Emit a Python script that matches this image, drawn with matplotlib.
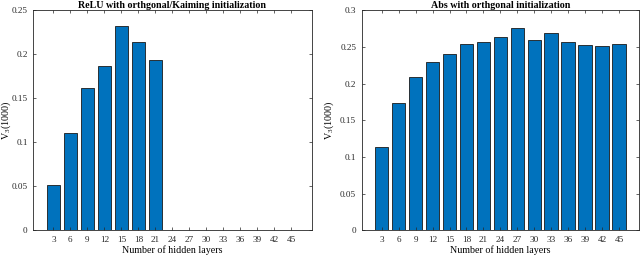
import matplotlib
matplotlib.use("Agg")
import matplotlib.pyplot as plt
from matplotlib.ticker import FuncFormatter

layers = [3, 6, 9, 12, 15, 18, 21, 24, 27, 30, 33, 36, 39, 42, 45]
relu_vals = [0.052, 0.111, 0.162, 0.187, 0.2326, 0.2136, 0.194, 0, 0, 0, 0, 0, 0, 0, 0]
abs_vals = [0.1134, 0.174, 0.2094, 0.230, 0.2404, 0.2536, 0.2563, 0.264, 0.2754,
            0.259, 0.269, 0.2563, 0.2527, 0.2518, 0.2545]
titles = ["ReLU with orthgonal/Kaiming initialization", "Abs with orthgonal initialization"]
xlabel = "Number of hidden layers"
ylabel = r"V$_3$(1000)"
relu_yticks = [0, 0.05, 0.1, 0.15, 0.2, 0.25]
abs_yticks = [0, 0.05, 0.1, 0.15, 0.2, 0.25, 0.3]

plt.rcParams['font.family'] = ['Liberation Serif', 'DejaVu Serif']
plt.rcParams['mathtext.fontset'] = 'custom'
plt.rcParams['mathtext.rm'] = 'Liberation Serif'
plt.rcParams['mathtext.it'] = 'Liberation Serif'

fig = plt.figure(figsize=(6.4, 2.56), dpi=100)
H = 256
bottom = (H - 230.3) / H
height = 220.0 / H
ax1 = fig.add_axes([33.3 / 640, bottom, 278.4 / 640, height])
ax2 = fig.add_axes([361.7 / 640, bottom, 277.6 / 640, height])

color = '#0072BD'
fg = '#262626'
fmt = FuncFormatter(lambda v, p: ('%g' % round(v, 4)))

for ax, vals, yt, ttl, lx in [
    (ax1, relu_vals, relu_yticks, titles[0], -0.073),
    (ax2, abs_vals, abs_yticks, titles[1], -0.093),
]:
    ax.bar(layers, vals, width=2.4, color=color, edgecolor='#1a1a1a', linewidth=0.6)
    ax.set_xlim(-0.54, 48.58)
    ax.set_ylim(yt[0], yt[-1])
    ax.set_xticks(layers)
    ax.set_yticks(yt)
    ax.yaxis.set_major_formatter(fmt)
    ax.tick_params(direction='in', top=True, right=True, labelsize=6.6,
                   length=2.5, width=0.5, colors=fg)
    ax.tick_params(axis='y', pad=4)
    ax.tick_params(axis='x', pad=4)
    for s in ax.spines.values():
        s.set_linewidth(0.6)
        s.set_color(fg)
    ax.set_title(ttl, fontsize=7.2, fontweight='bold', pad=1.5)
    ax.set_xlabel(xlabel, fontsize=7.2, labelpad=1)
    ax.set_ylabel(ylabel, fontsize=7.2)
    ax.yaxis.set_label_coords(lx, 0.5)

fig.savefig("out.png", dpi=100)
